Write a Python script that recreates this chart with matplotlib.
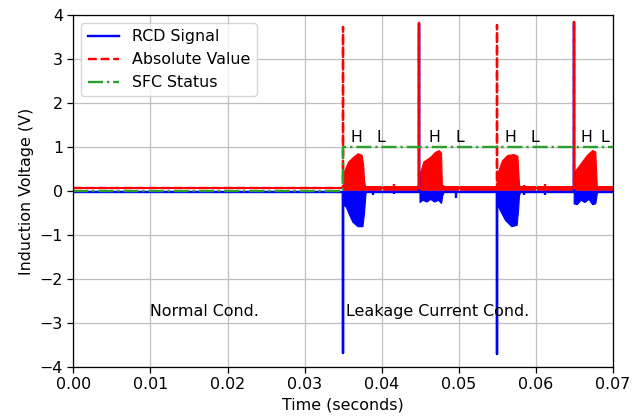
import numpy as np
import matplotlib
matplotlib.use("Agg")
import matplotlib.pyplot as plt

# ---- data ----
t_end = 0.07
t_fault = 0.035
spike_t = [0.0350, 0.0449, 0.0549, 0.0649]
spike_blue = [-3.68, 3.80, -3.70, 3.85]
spike_red = [3.73, 3.81, 3.77, 3.85]

blue_base = -0.02
red_base = 0.07

# hump envelopes (offset from spike in s, value in V)
red_hump_off = [
    [0.0000, 0.0001, 0.00065, 0.0013, 0.0019, 0.0024, 0.0026, 0.0027, 0.0029],
    [0.0000, 0.0001, 0.0005, 0.0014, 0.0020, 0.0025, 0.0028, 0.0029, 0.0030],
    [0.0000, 0.00017, 0.0007, 0.0014, 0.0022, 0.0027, 0.0029, 0.0030, 0.0031],
    [0.0000, 0.00013, 0.0009, 0.0017, 0.0024, 0.0028, 0.0029, 0.0030, 0.0031],
]
red_hump_val = [
    [0.30, 0.45, 0.67, 0.78, 0.86, 0.82, 0.60, 0.25, 0.05],
    [0.30, 0.44, 0.67, 0.78, 0.89, 0.93, 0.87, 0.14, 0.05],
    [0.30, 0.44, 0.70, 0.82, 0.84, 0.80, 0.18, 0.05, 0.05],
    [0.30, 0.45, 0.63, 0.82, 0.93, 0.90, 0.50, 0.10, 0.05],
]
blue_hump_off = [
    [0.0000, 0.00035, 0.0008, 0.0012, 0.00186, 0.0025, 0.0027, 0.0029],
    [0.0000, 0.0004, 0.0009, 0.0014, 0.0019, 0.0024, 0.0028, 0.0030],
    [0.0000, 0.0002, 0.0011, 0.0019, 0.0026, 0.0028, 0.0029, 0.0030],
    [0.0000, 0.0004, 0.0009, 0.0014, 0.0019, 0.0024, 0.0028, 0.0030],
]
blue_hump_val = [
    [-0.30, -0.36, -0.55, -0.70, -0.80, -0.80, -0.50, -0.05],
    [-0.25, -0.20, -0.24, -0.18, -0.24, -0.20, -0.27, -0.05],
    [-0.30, -0.36, -0.66, -0.80, -0.77, -0.40, -0.10, -0.05],
    [-0.28, -0.30, -0.20, -0.25, -0.18, -0.30, -0.28, -0.05],
]

blip_t = [0.0389, 0.0416, 0.0480, 0.0496, 0.0584, 0.0612]
blip_red = [0.12, 0.16, 0.14, 0.12, 0.14, 0.16]
blip_blue = [-0.08, -0.06, -0.10, -0.16, -0.10, -0.08]

sfc_t = [0.0, t_fault, t_fault, t_end]
sfc_v = [0, 0, 1, 1]

hl_h_x = [0.0367, 0.0468, 0.0567, 0.0666]
hl_l_x = [0.0399, 0.0501, 0.0599, 0.0689]
hl_y = 1.12

cond_labels = ["Normal Cond.", "Leakage Current Cond."]
cond_x = [0.0100, 0.0354]
cond_y = -2.85

# ---- style (reference is rendered ~1.14x larger than default) ----
s = 1.14
plt.rcParams.update({
    "font.size": 10 * s,
    "axes.linewidth": 0.8 * s,
    "grid.linewidth": 0.8 * s,
    "grid.color": "#c0c0c0",
    "xtick.major.size": 3.5 * s,
    "ytick.major.size": 3.5 * s,
    "xtick.major.width": 0.8 * s,
    "ytick.major.width": 0.8 * s,
})
lw = 1.5 * s

# ---- build traces ----
def trace(base, peaks):
    t = [0.0]
    v = [base]
    for ts, pk in zip(spike_t, peaks):
        t += [ts, ts, ts]
        v += [base, pk, base]
    t.append(t_end)
    v.append(base)
    return t, v

bt, bv = trace(blue_base, spike_blue)
rt, rv = trace(red_base, spike_red)

fig = plt.figure(figsize=(6.42, 4.19), dpi=100)
ax = fig.add_axes([73.3 / 642, 1 - 367 / 419, (613 - 73.3) / 642, (367 - 15) / 419])

ax.plot(bt, bv, color="blue", lw=lw, label="RCD Signal")
for ts, off, val in zip(spike_t, blue_hump_off, blue_hump_val):
    tt = np.array(off) + ts
    ax.fill_between(tt, val, blue_base, color="blue", lw=0.8, edgecolor="blue")
ax.vlines(blip_t, blue_base, blip_blue, color="blue", lw=lw)

ax.plot(rt, rv, color="red", lw=lw, ls="--", label="Absolute Value")
ax.fill_between([t_fault, t_end], 0.0, 0.11, color="red", lw=0)
ax.fill_between([0.0, t_fault], 0.04, 0.10, color="red", lw=0)
for ts, off, val in zip(spike_t, red_hump_off, red_hump_val):
    tt = np.array(off) + ts
    ax.fill_between(tt, 0.0, val, color="red", lw=0.8, edgecolor="red")
ax.vlines(blip_t, red_base, blip_red, color="red", lw=lw)

ax.plot(sfc_t, sfc_v, color="tab:green", lw=lw, ls="-.", label="SFC Status")

for x in hl_h_x:
    ax.text(x, hl_y, "H", ha="center", va="baseline")
for x in hl_l_x:
    ax.text(x, hl_y, "L", ha="center", va="baseline")
for lab, x in zip(cond_labels, cond_x):
    ax.text(x, cond_y, lab, ha="left", va="baseline")

ax.set_xlim(0, t_end)
ax.set_ylim(-4, 4)
ax.set_xticks(np.arange(0, 0.0701, 0.01))
ax.set_xticklabels([f"{v:.2f}" for v in np.arange(0, 0.0701, 0.01)])
ax.grid(True)
ax.set_xlabel("Time (seconds)")
ax.set_ylabel("Induction Voltage (V)")
ax.legend(loc="upper left")

fig.savefig("out.png", dpi=100)
